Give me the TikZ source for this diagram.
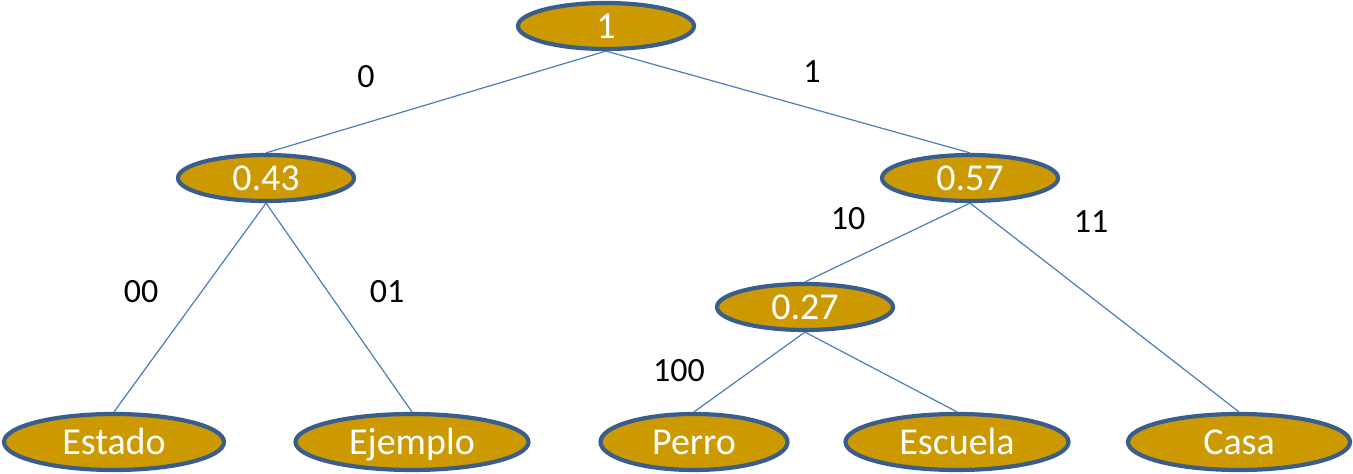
\documentclass[tikz,border=0pt]{standalone}
\usepackage{fontspec}
\setmainfont{Carlito}
\usepackage{xcolor}
\definecolor{oro}{HTML}{CC9900}
\definecolor{borde}{HTML}{3A5E8C}
\definecolor{rama}{HTML}{4A7EBB}
\usetikzlibrary{shapes.geometric}
\tikzset{
  nodo/.style={ellipse, draw=borde, fill=oro, line width=2.1pt, inner sep=0pt,
    minimum width=88pt, minimum height=23pt, text=white,
    font=\fontsize{19}{21}\selectfont, text height=12.2pt, text depth=0pt},
  hoja/.style={nodo, minimum height=28pt},
  ramaline/.style={rama, line width=0.6pt},
  etiq/.style={font=\fontsize{17}{19}\selectfont, text=black, inner sep=0pt},
}
\begin{document}
\begin{tikzpicture}[x=0.5pt, y=-0.5pt]
\useasboundingbox (0,0) rectangle (1353,474);
% arbol
\node[nodo] (raiz) at (606,26) {1};
\node[nodo] (n043) at (266,178) {0.43};
\node[nodo] (n057) at (970,178) {0.57};
\node[nodo] (n027) at (805,307) {0.27};
% hojas
\node[hoja, minimum width=110pt] (estado) at (114,442) {Estado};
\node[hoja, minimum width=116.5pt] (ejemplo) at (412,442) {Ejemplo};
\node[hoja, minimum width=93.5pt] (perro) at (694,442) {Perro};
\node[hoja, minimum width=111.5pt] (escuela) at (957,442) {Escuela};
\node[hoja, minimum width=111pt] (casa) at (1239,442) {Casa};
% ramas
\draw[ramaline] (raiz.south) -- (n043.north);
\draw[ramaline] (raiz.south) -- (n057.north);
\draw[ramaline] (n043.south) -- (estado.north);
\draw[ramaline] (n043.south) -- (ejemplo.north);
\draw[ramaline] (n057.south) -- (n027.north);
\draw[ramaline] (n057.south) -- (casa.north);
\draw[ramaline] (n027.south) -- (perro.north);
\draw[ramaline] (n027.south) -- (escuela.north);
% codigos
\node[etiq] (c0) at (366,77) {0};
\node[etiq] (c1) at (812,72) {1};
\node[etiq] (c10) at (848,219) {10};
\node[etiq] (c11) at (1091,222) {11};
\node[etiq] (c00) at (141,292) {00};
\node[etiq] (c01) at (387,292) {01};
\node[etiq] (c100) at (679,371) {100};
\end{tikzpicture}
\end{document}
